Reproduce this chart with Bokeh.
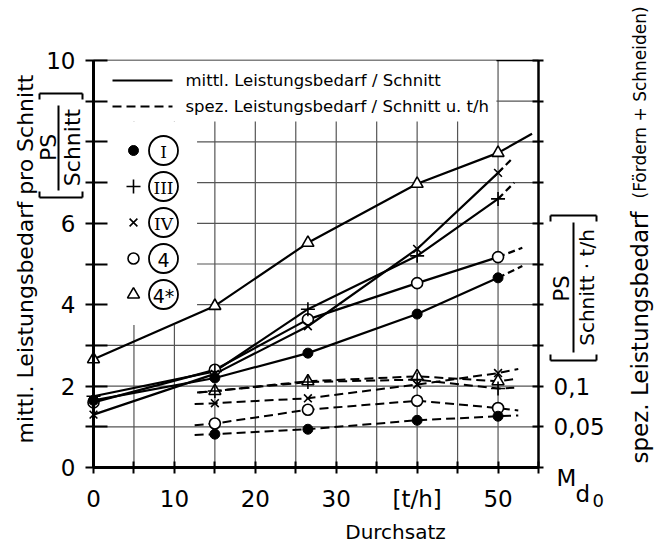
import math
from bokeh.plotting import figure
from bokeh.models import Range1d, LinearAxis, FixedTicker
from bokeh.core.properties import value
from bokeh.embed import file_html
from bokeh.resources import INLINE

# ---------------- data ----------------
durchsatz = [0, 15, 26.5, 40, 50]          # t/h, mittl. Leistungsbedarf points
durchsatz_spez = [15, 26.5, 40, 50]        # t/h, spez. Leistungsbedarf points
series = ["I", "III", "IV", "4", "4*"]

mittl_I = [1.65, 2.2, 2.81, 3.77, 4.66]
mittl_III = [1.75, 2.36, 3.89, 5.2, 6.6]
mittl_IV = [1.3, 2.3, 3.47, 5.37, 7.24]
mittl_4 = [1.6, 2.4, 3.64, 4.53, 5.17]
mittl_4s = [2.66, 3.97, 5.52, 6.97, 7.73]

spez_I = [0.041, 0.047, 0.058, 0.063]
spez_III = [0.094, 0.105, 0.108, 0.097]
spez_IV = [0.079, 0.085, 0.102, 0.116]
spez_4 = [0.054, 0.071, 0.082, 0.073]
spez_4s = [0.094, 0.106, 0.112, 0.106]

# ends of the drawn curves beyond the measured points
mittl_end_x = [53.0, 52.0, 51.8, 53.0, 54.2]
mittl_end_y = [4.95, 7.0, 7.6, 5.4, 8.2]
spez_start_x = [12.5, 13.0, 12.5, 12.5, 12.8]
spez_start_y = [0.040, 0.092, 0.078, 0.052, 0.092]
spez_end_x = [52.5, 52.0, 52.5, 52.5, 52.3]
spez_end_y = [0.064, 0.098, 0.121, 0.070, 0.109]

x_ticks = [0, 5, 10, 15, 20, 25, 30, 35, 40, 45, 50, 55]
x_tick_labels = {0: "0", 10: "10", 20: "20", 30: "30", 40: "[t/h]", 50: "50"}
y_ticks = list(range(0, 11))
y_tick_labels = {0: "0", 2: "2", 4: "4", 6: "6", 10: "10"}
r_ticks = [0.0, 0.05, 0.1, 0.15, 0.2, 0.25, 0.3, 0.35, 0.4, 0.45, 0.5]
r_tick_labels = {0.05: "0,05", 0.1: "0,1"}
grid_x = [5, 10, 15, 20, 25, 30, 35, 40, 45, 50]
grid_y = [1, 2, 3, 4, 5, 6, 7, 8, 9]

legend_lines = ["mittl. Leistungsbedarf / Schnitt", "spez. Leistungsbedarf / Schnitt u. t/h"]
legend_numerals = ["I", "III", "IV", "4", "4*"]

mittl = [mittl_I, mittl_III, mittl_IV, mittl_4, mittl_4s]
spez = [spez_I, spez_III, spez_IV, spez_4, spez_4s]

# ---------------- layout / style ----------------
FONT = "DejaVu Sans"
W, H = 654, 542
X0, X1 = 93, 538          # page x of 0 and 55 t/h
Y0, Y1 = 467, 60          # page y of 0 and 10
SX = (X1 - X0) / 55.0
SY = (Y0 - Y1) / 10.0

def dx(px):
    return (px - X0) / SX

def dy(py):
    return (Y0 - py) / SY

marker_style = {
    "I": dict(marker="circle", size=10, fill_color="black", line_color="black", line_width=1),
    "III": dict(marker="cross", size=14, fill_color=None, line_color="black", line_width=1.6),
    "IV": dict(marker="x", size=11, fill_color=None, line_color="black", line_width=1.6),
    "4": dict(marker="circle", size=11, fill_color="white", line_color="black", line_width=1.6),
    "4*": dict(marker="triangle", size=12, fill_color="white", line_color="black", line_width=1.6),
}
draw_order = ["4*", "4", "IV", "III", "I"]

p = figure(width=W, height=H,
           x_range=Range1d(dx(0), dx(W)), y_range=Range1d(dy(H), dy(0)),
           output_backend="svg", toolbar_location=None,
           x_axis_location=None, y_axis_location=None,
           min_border=0, min_border_left=0, min_border_right=0,
           min_border_top=0, min_border_bottom=0)
p.extra_y_ranges = {"spez": Range1d(dy(H) / 20.0, dy(0) / 20.0)}
p.outline_line_color = None
p.background_fill_color = "white"
p.xgrid.visible = False
p.ygrid.visible = False

# grid (within the diagram only)
p.segment(x0=grid_x, y0=[0] * len(grid_x), x1=grid_x, y1=[10] * len(grid_x),
          line_color="#555555", line_width=1.2)
p.segment(x0=[0] * len(grid_y), y0=grid_y, x1=[55] * len(grid_y), y1=grid_y,
          line_color="#555555", line_width=1.2)
# top border
p.segment(x0=[0], y0=[10], x1=[55], y1=[10], line_color="black", line_width=1.6)

# white legend area (covers the grid)
p.quad(left=[0, 0], right=[49.8, 12.8], bottom=[8.5, 3.5], top=[10, 8.5],
       fill_color="white", line_color=None)


def style_axis(ax, labels, tin, tout, standoff, lw):
    ax.major_label_overrides = labels
    ax.major_label_text_font = FONT
    ax.major_label_text_font_size = "23px"
    ax.major_label_text_color = "black"
    ax.axis_line_width = lw
    ax.axis_line_color = "black"
    ax.major_tick_line_width = 2
    ax.major_tick_line_color = "black"
    ax.major_tick_in = tin
    ax.major_tick_out = tout
    ax.minor_tick_line_color = None
    ax.major_label_standoff = standoff


xaxis = LinearAxis(fixed_location=0, bounds=(0, 55), ticker=FixedTicker(ticks=x_ticks))
style_axis(xaxis, {t: x_tick_labels.get(t, "") for t in x_ticks}, 6, 6, 12, 3)
p.add_layout(xaxis, "below")

yaxis = LinearAxis(fixed_location=0, bounds=(0, 10), ticker=FixedTicker(ticks=y_ticks))
style_axis(yaxis, {t: y_tick_labels.get(t, "") for t in y_ticks}, 14, 8, 10, 3)
yaxis.major_label_orientation = "horizontal"
p.add_layout(yaxis, "left")

raxis = LinearAxis(fixed_location=55, y_range_name="spez", bounds=(0, 0.5),
                   ticker=FixedTicker(ticks=r_ticks))
style_axis(raxis, {t: r_tick_labels.get(t, "") for t in r_ticks}, 6, 5, 10, 2.5)
raxis.major_label_orientation = "horizontal"
p.add_layout(raxis, "right")

# ---------------- data marks ----------------
for name, ys, ex, ey in zip(series, mittl, mittl_end_x, mittl_end_y):
    p.line(durchsatz, ys, line_color="black", line_width=2.2)
    p.line([durchsatz[-1], ex], [ys[-1], ey], line_color="black", line_width=2.2,
           line_dash="solid" if name == "4*" else "7 4")

for name, ys, sx, sy, ex, ey in zip(series, spez, spez_start_x, spez_start_y, spez_end_x, spez_end_y):
    xs = [sx] + durchsatz_spez + [ex]
    yy = [sy] + ys + [ey]
    p.line(xs, yy, y_range_name="spez", line_color="black", line_width=2, line_dash="9 5")

for name in draw_order:
    i = series.index(name)
    p.scatter(durchsatz, mittl[i], **marker_style[name])
    p.scatter(durchsatz_spez, spez[i], y_range_name="spez", **marker_style[name])


# ---------------- texts and decorations ----------------
def txt(px, py, text, size, angle=0.0, align="center", baseline="middle", font=FONT):
    p.text(x=[dx(px)], y=[dy(py)], text=[text], angle=angle, text_align=align,
           text_baseline=baseline, text_font=value(font), text_font_size=size,
           text_color="black")


def seg(px0, py0, px1, py1, w=2.0):
    p.segment(x0=[dx(px0)], y0=[dy(py0)], x1=[dx(px1)], y1=[dy(py1)],
              line_color="black", line_width=w)


# legend
for lab, py, dash in zip(legend_lines, [80, 106], ["solid", "9 5"]):
    p.line([dx(112), dx(172)], [dy(py), dy(py)], line_color="black", line_width=2.2, line_dash=dash)
    txt(185, py, lab, "16.5px", align="left")

for name, num, py in zip(series, legend_numerals, [150, 186, 222, 258, 294]):
    p.scatter([dx(133)], [dy(py)], **marker_style[name])
    p.scatter([dx(163)], [dy(py)], marker="circle", size=29, fill_color="white",
              line_color="black", line_width=1.8)
    roman = num in ("I", "III", "IV")
    txt(163, py + 1, num, "17px" if roman else "19px", font="DejaVu Serif" if roman else FONT)

# left axis title and unit
txt(25, 255, "mittl. Leistungsbedarf  pro Schnitt", "22px", angle=math.pi / 2)
txt(48, 147, "PS", "22px", angle=math.pi / 2)
txt(72, 147, "Schnitt", "22px", angle=math.pi / 2)
seg(58, 105, 58, 190)
seg(39, 93, 82, 93); seg(39, 93, 39, 99); seg(82, 93, 82, 99)
seg(39, 197, 82, 197); seg(39, 197, 39, 191); seg(82, 197, 82, 191)

# right unit
txt(561, 288, "PS", "21px", angle=math.pi / 2)
txt(586, 287, "Schnitt · t/h", "20px", angle=math.pi / 2)
seg(573, 222, 573, 352)
seg(550, 215, 596, 215); seg(550, 215, 550, 221); seg(596, 215, 596, 221)
seg(550, 360, 596, 360); seg(550, 360, 550, 354); seg(596, 360, 596, 354)

# right axis title
txt(639, 463, "spez. Leistungsbedarf", "23px", angle=math.pi / 2, align="left", baseline="alphabetic")
txt(639, 198, "(Fördern + Schneiden)", "17px", angle=math.pi / 2, align="left", baseline="alphabetic")

# M_d0 at the zero of the right axis
txt(556, 477, "M", "23px", align="left", baseline="alphabetic")
txt(575, 493, "d", "23px", align="left", baseline="alphabetic")
txt(592, 500, "0", "18px", align="left", baseline="alphabetic")

# x axis title
txt(395, 531, "Durchsatz", "20px")

open("out.html", "w").write(file_html(p, INLINE))
